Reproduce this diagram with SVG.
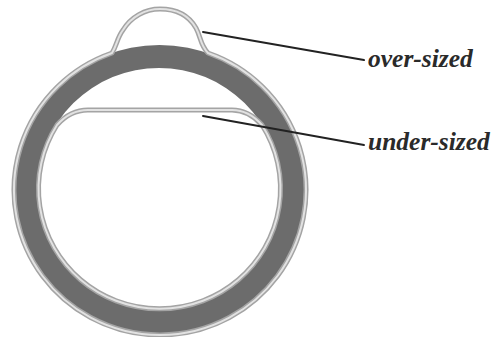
<svg xmlns="http://www.w3.org/2000/svg" width="497" height="337" viewBox="0 0 497 337">
<style>
.band{fill:none;stroke:#a4a4a4;stroke-width:5;stroke-linejoin:round}
.core{fill:none;stroke:#e2e2e2;stroke-width:2;stroke-linejoin:round}
.lead{fill:none;stroke:#222;stroke-width:2;stroke-linecap:round}
text{font-family:"Liberation Serif",serif;font-style:italic;font-weight:bold;font-size:25.5px;fill:#2a2a2a}
</style>
<rect width="497" height="337" fill="#fff"/>
<g id="ring">
<path d="M13.5 190A146 145 0 1 1 305.5 190A146 145 0 1 1 13.5 190ZM38 188A121 120 0 1 0 280 188A121 120 0 1 0 38 188Z" fill="#6c6c6c" fill-rule="evenodd"/>
</g>
<g id="over-sized">
<path class="band" d="M112 53C117 45 117 38 123 30C131 17 145 9 160 9C175 9 188 14 196 28C201 37 200 45 208 53A146 145 0 1 1 112 53Z"/>
<path class="core" d="M112 53C117 45 117 38 123 30C131 17 145 9 160 9C175 9 188 14 196 28C201 37 200 45 208 53A146 145 0 1 1 112 53Z"/>
</g>
<g id="under-sized">
<path class="band" d="M88 110L232 110C245 110 254 116 262 125A121 120 0 1 1 57 125C65 116 75 110 88 110Z"/>
<path class="core" d="M88 110L232 110C245 110 254 116 262 125A121 120 0 1 1 57 125C65 116 75 110 88 110Z"/>
</g>
<g id="connectors">
<path class="lead" d="M203 32L364 60"/>
<path class="lead" d="M203 116L364 145"/>
</g>
<g id="label-over"><text x="368" y="67">over-sized</text></g>
<g id="label-under"><text x="368" y="150">under-sized</text></g>
</svg>
